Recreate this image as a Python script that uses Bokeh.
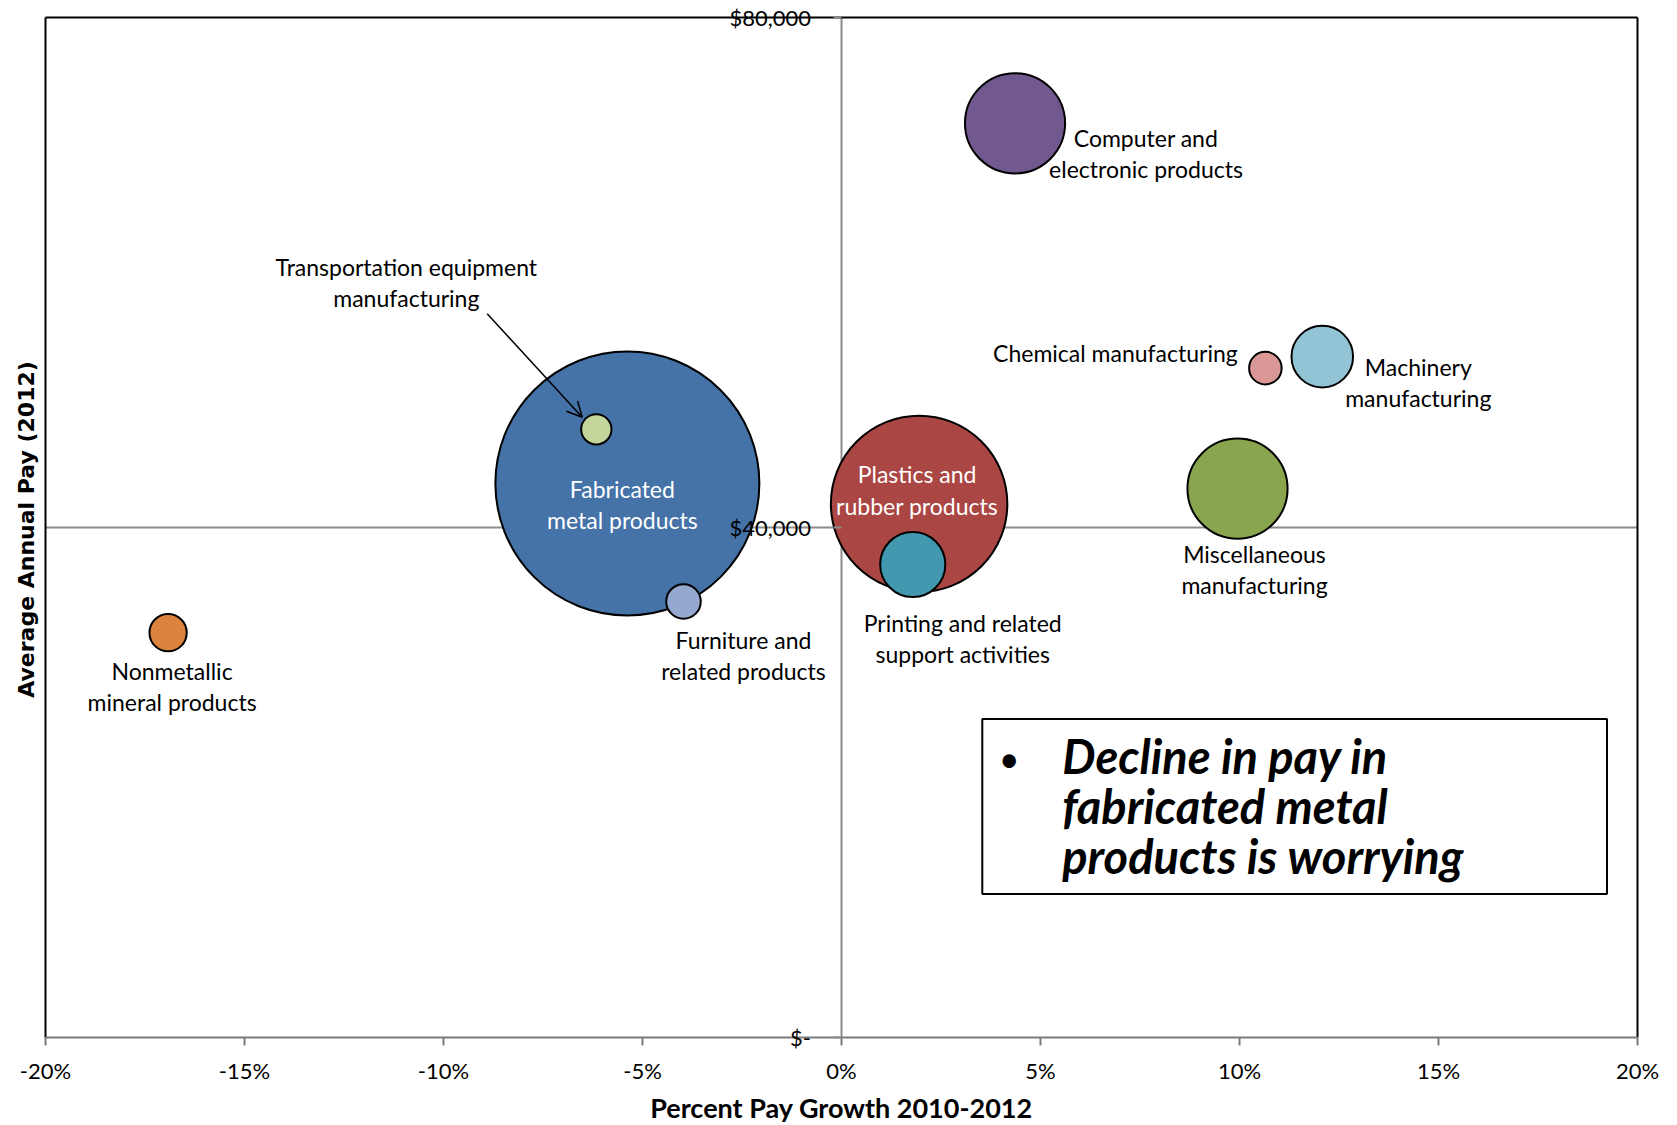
from bokeh.plotting import figure
from bokeh.models import (ColumnDataSource, Label, Arrow, OpenHead,
                          BoxAnnotation, Range1d)
from bokeh.core.properties import value
from bokeh.embed import file_html
from bokeh.resources import INLINE
import math

# ---------------- data ----------------
industries = [
    "Fabricated metal products",
    "Plastics and rubber products",
    "Miscellaneous manufacturing",
    "Computer and electronic products",
    "Printing and related support activities",
    "Machinery manufacturing",
    "Nonmetallic mineral products",
    "Furniture and related products",
    "Chemical manufacturing",
    "Transportation equipment manufacturing",
]
label_text = [
    "Fabricated\nmetal products",
    "Plastics and\nrubber products",
    "Miscellaneous\nmanufacturing",
    "Computer and\nelectronic products",
    "Printing and related\nsupport activities",
    "Machinery\nmanufacturing",
    "Nonmetallic\nmineral products",
    "Furniture and\nrelated products",
    "Chemical manufacturing",
    "Transportation equipment\nmanufacturing",
]
pay_growth_pct = [-5.38, 1.95, 9.95, 4.36, 1.79, 12.08, -16.92, -3.97, 10.65, -6.16]
avg_pay_2012 = [43450, 41850, 43050, 71700, 37100, 53400, 31750, 34200, 52500, 47700]
bubble_size = [17500, 7850, 2550, 2550, 1090, 975, 365, 315, 280, 245]

x_ticks = [-20, -15, -10, -5, 0, 5, 10, 15, 20]
x_tick_labels = ["-20%", "-15%", "-10%", "-5%", "0%", "5%", "10%", "15%", "20%"]
y_ticks = [0, 40000, 80000]
y_tick_labels = ["$-", "$40,000", "$80,000"]

x_title = "Percent Pay Growth 2010-2012"
y_title = "Average Annual Pay (2012)"
note_lines = ["Decline in pay in", "fabricated metal", "products is worrying"]

# ---------------- styles / layout ----------------
colors = ["#4572A7", "#AA4643", "#89A54E", "#71588F", "#4198AF",
          "#93C4D6", "#DB843D", "#95A8CF", "#D99795", "#C3D69B"]
label_colors = ["white", "white", "black", "black", "black",
                "black", "black", "black", "black", "black"]
# label offsets from bubble centre, in screen pixels (right, down)
label_dx = [-5, -2, 17, 131, 50, 96, 4, 60, -150, -190]
label_dy = [21, -14, 81, 30, 74, 26, 54, 54, -15, -147]

W, H = 1676, 1124
# plot-box pixel placement
BL, BR, BT, BB = 45, 1637, 17, 1037
X0, X1 = x_ticks[0], x_ticks[-1]
Y0, Y1 = y_ticks[0], y_ticks[-1]
pxx = (BR - BL) / (X1 - X0)
pxy = (BB - BT) / (Y1 - Y0)


def dx_(px):
    return X0 + (px - BL) / pxx


def dy_(py):
    return Y0 + (BB - py) / pxy


R_MAX = 132.5
smax = max(bubble_size)
diam = [2 * R_MAX * math.sqrt(s / smax) - 1 for s in bubble_size]
lx = [x + d / pxx for x, d in zip(pay_growth_pct, label_dx)]
ly = [y - d / pxy for y, d in zip(avg_pay_2012, label_dy)]

src = ColumnDataSource(dict(x=pay_growth_pct, y=avg_pay_2012, d=diam, c=colors,
                            name=industries))
lsrc = ColumnDataSource(dict(x=lx, y=ly, t=label_text, c=label_colors))

p = figure(frame_width=W, frame_height=H,
           x_range=Range1d(dx_(0), dx_(W)), y_range=Range1d(dy_(H), dy_(0)),
           output_backend="svg", toolbar_location=None,
           min_border_left=0, min_border_right=0,
           min_border_top=0, min_border_bottom=0)
p.axis.visible = False
p.xgrid.visible = False
p.ygrid.visible = False
p.outline_line_color = None
p.background_fill_color = "white"
p.border_fill_color = "white"

GRAY = "#8C8C8C"
# axes crossing lines (x = 0 and y = 40,000)
p.segment(x0=[0], y0=[Y0], x1=[0], y1=[Y1], line_color=GRAY, line_width=2,
          level="underlay")
p.segment(x0=[X0], y0=[y_ticks[1]], x1=[X1], y1=[y_ticks[1]], line_color=GRAY,
          line_width=2, level="underlay")

# bubbles
p.scatter(x="x", y="y", size="d", fill_color="c", line_color="black",
          line_width=2, source=src)

# plot box: left, top, right black; bottom (x axis) gray
p.segment(x0=[X0, X0, X1], y0=[Y0, Y1, Y1], x1=[X0, X1, X1], y1=[Y1, Y1, Y0],
          line_color="black", line_width=2)
p.segment(x0=[X0], y0=[Y0], x1=[X1], y1=[Y0], line_color="#7A7A7A", line_width=2)

# x ticks + labels
p.segment(x0=x_ticks, y0=[Y0] * len(x_ticks), x1=x_ticks,
          y1=[Y0 - 8 / pxy] * len(x_ticks), line_color="#7A7A7A", line_width=2)
p.text(x=x_ticks, y=[dy_(1070)] * len(x_ticks), text=x_tick_labels,
       text_font=value("Lato"), text_font_size="22px", text_color="black",
       text_align="center", text_baseline="middle")

# y ticks (on the x = 0 axis)
p.segment(x0=[0] * 3, y0=y_ticks, x1=[-8 / pxx] * 3, y1=y_ticks,
          line_color=GRAY, line_width=2)

# bubble labels
p.text(x="x", y="y", text="t", text_color="c", source=lsrc,
       text_font=value("Lato"), text_font_size="23px",
       text_align="center", text_baseline="middle", text_line_height=1.13)

# y tick labels next to the vertical axis
for t, l in zip(y_ticks, y_tick_labels):
    p.add_layout(Label(x=0, y=t, text=l, x_offset=-30.5, text_align="right",
                       text_baseline="middle", text_font="Lato",
                       text_font_size="22px", text_color="black"))

# axis titles
p.add_layout(Label(x=0, y=dy_(1107), text=x_title, text_align="center",
                   text_baseline="middle", text_font="Lato",
                   text_font_style="bold", text_font_size="27px",
                   text_color="black"))
p.add_layout(Label(x=dx_(25.7), y=dy_(529), text=y_title, angle=math.pi / 2,
                   text_align="center", text_baseline="middle",
                   text_font="DejaVu Sans", text_font_style="bold",
                   text_font_size="22px", text_color="black"))

# arrow to transportation bubble
p.add_layout(Arrow(end=OpenHead(size=15, line_width=1.5, line_color="black"),
                   x_start=dx_(486.7), y_start=dy_(313.3),
                   x_end=dx_(581.7), y_end=dy_(416.7),
                   line_width=1.5, line_color="black"))

# note box
p.add_layout(BoxAnnotation(left=dx_(981.8), right=dx_(1606.5),
                           bottom=dy_(893.5), top=dy_(718.5),
                           fill_color="white", fill_alpha=1,
                           line_color="black", line_width=2, line_alpha=1))
p.add_layout(Label(x=dx_(1008.6), y=dy_(757), text="\u2022", text_align="center",
                   text_baseline="middle", text_font="Lato",
                   text_font_size="36px", text_color="black"))
for i, line in enumerate(note_lines):
    p.add_layout(Label(x=dx_(1061.7), y=dy_(755 + i * 50), text=line,
                       text_align="left", text_baseline="middle",
                       text_font="Lato", text_font_style="bold italic",
                       text_font_size="47px", text_color="black"))

open("out.html", "w").write(file_html(p, INLINE))
